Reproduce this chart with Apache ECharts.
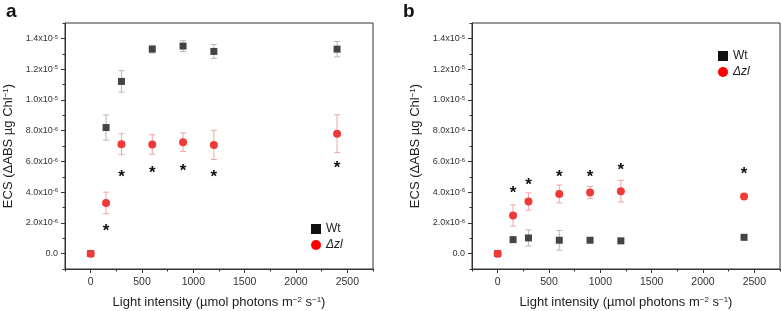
<!DOCTYPE html>
<html>
<head>
<meta charset="utf-8">
<script src="https://cdn.jsdelivr.net/npm/echarts@6/dist/echarts.min.js"></script>
<style>
  html, body { margin: 0; padding: 0; background: #fff; }
  #chart { width: 781px; height: 311px; }
</style>
</head>
<body>
<div id="chart"></div>
<script>
// 数据：光强和两组样品
var lightX = [0, 150, 300, 600, 900, 1200, 2400];

// a 图
var aWt = [0, 8.2e-6, 11.2e-6, 13.3e-6, 13.5e-6, 13.15e-6, 13.3e-6];
var aWtErr = [0, 0.82e-6, 0.7e-6, 0.25e-6, 0.35e-6, 0.45e-6, 0.5e-6];
var aZl = [0, 3.3e-6, 7.12e-6, 7.1e-6, 7.25e-6, 7.07e-6, 7.8e-6];
var aZlErr = [0, 0.7e-6, 0.68e-6, 0.63e-6, 0.6e-6, 0.95e-6, 1.23e-6];
var aStarX = [150, 300, 600, 900, 1200, 2400];
var aStarY = [1.7e-6, 5.25e-6, 5.5e-6, 5.6e-6, 5.23e-6, 5.8e-6];

// b 图
var bWt = [0, 0.91e-6, 1.02e-6, 0.87e-6, 0.87e-6, 0.83e-6, 1.06e-6];
var bWtErr = [0, 0.08e-6, 0.52e-6, 0.64e-6, 0.08e-6, 0.07e-6, 0.05e-6];
var bZl = [0, 2.48e-6, 3.39e-6, 3.88e-6, 3.97e-6, 4.06e-6, 3.72e-6];
var bZlErr = [0, 0.69e-6, 0.56e-6, 0.58e-6, 0.4e-6, 0.71e-6, 0.1e-6];
var bStarX = [150, 300, 600, 900, 1200, 2400];
var bStarY = [4.2e-6, 4.7e-6, 5.2e-6, 5.25e-6, 5.65e-6, 5.42e-6];

// 刻度
var xMajor = [0, 500, 1000, 1500, 2000, 2500];
var xMinor = [-250, 250, 750, 1250, 1750, 2250, 2750];
var yMajor = [0, 2e-6, 4e-6, 6e-6, 8e-6, 1e-5, 1.2e-5, 1.4e-5];
var yMinor = [-1e-6, 1e-6, 3e-6, 5e-6, 7e-6, 9e-6, 1.1e-5, 1.3e-5, 1.5e-5];

var FONT = "'Liberation Sans', Arial, sans-serif";
var AXIS_COLOR = '#333';
var WT_COLOR = '#444';
var WT_ERR = '#b8b8b8';
var ZL_COLOR = '#f03a3a';
var ZL_ERR = '#f4a3a3';

function yLabel(v) {
	if (Math.abs(v) < 1e-12) return '0.0';
	var e = Math.floor(Math.log10(v) + 1e-9);
	var m = v / Math.pow(10, e);
	return m.toFixed(1) + 'x10{s|' + e + '}';
}

function zip(xs, ys) {
	var out = [];
	for (var i = 0; i < xs.length; i++) out.push([xs[i], ys[i]]);
	return out;
}

function errData(ys, errs) {
	var out = [];
	for (var i = 0; i < lightX.length; i++) {
		if (errs[i] > 0) out.push([lightX[i], ys[i] - errs[i], ys[i] + errs[i]]);
	}
	return out;
}

function errorSeries(name, xi, data, color) {
	return {
		name: name,
		type: 'custom',
		xAxisIndex: xi,
		yAxisIndex: xi,
		silent: true,
		z: 2,
		data: data,
		renderItem: function(params, api) {
			var lo = api.coord([api.value(0), api.value(1)]);
			var hi = api.coord([api.value(0), api.value(2)]);
			var w = 3;
			var st = { stroke: color, lineWidth: 1 };
			return {
				type: 'group',
				children: [
					{ type: 'line', shape: { x1: lo[0], y1: lo[1], x2: hi[0], y2: hi[1] }, style: st },
					{ type: 'line', shape: { x1: lo[0] - w, y1: lo[1], x2: lo[0] + w, y2: lo[1] }, style: st },
					{ type: 'line', shape: { x1: hi[0] - w, y1: hi[1], x2: hi[0] + w, y2: hi[1] }, style: st }
				]
			};
		}
	};
}

function starSeries(xi, xs, ys) {
	return {
		type: 'custom',
		xAxisIndex: xi,
		yAxisIndex: xi,
		silent: true,
		z: 4,
		data: zip(xs, ys),
		renderItem: function(params, api) {
			var p = api.coord([api.value(0), api.value(1)]);
			return {
				type: 'text',
				x: p[0],
				y: p[1] + 4,
				style: {
					text: '*',
					fill: '#111',
					font: 'bold 17px ' + FONT,
					align: 'center',
					verticalAlign: 'middle'
				}
			};
		}
	};
}

var grids = [
	{ left: 65, right: 408, top: 23, bottom: 42 },
	{ left: 472, right: 1, top: 23, bottom: 42 }
];

var xAxes = [], yAxes = [];
for (var g = 0; g < 2; g++) {
	xAxes.push({
		type: 'value', gridIndex: g, position: 'bottom', min: -250, max: 2750,
		name: 'Light intensity (µmol photons m{s|−2} s{s|−1})',
		nameLocation: 'middle', nameGap: 27,
		nameTextStyle: {
			color: '#222', fontSize: 13, fontFamily: FONT,
			rich: { s: { fontSize: 8, verticalAlign: 'top', lineHeight: 10, fontFamily: FONT, color: '#222' } }
		},
		axisLine: { show: true, onZero: false, lineStyle: { color: AXIS_COLOR, width: 1 } },
		axisTick: { show: true, length: 4, customValues: xMajor, lineStyle: { color: AXIS_COLOR } },
		axisLabel: {
			customValues: xMajor, margin: 8, fontSize: 10.5, color: '#333', fontFamily: FONT,
			formatter: function(v) { return String(v); }
		},
		splitLine: { show: false }
	});
	// 次刻度
	xAxes.push({
		type: 'value', gridIndex: g, position: 'bottom', offset: 0, min: -250, max: 2750,
		axisLine: { show: false, onZero: false },
		axisTick: { show: true, length: 2.5, customValues: xMinor, lineStyle: { color: AXIS_COLOR } },
		axisLabel: { show: false },
		splitLine: { show: false }
	});
	yAxes.push({
		type: 'value', gridIndex: g, position: 'left', min: -1e-6, max: 1.5e-5,
		name: 'ECS (ΔABS µg Chl{s|−1})',
		nameLocation: 'middle', nameGap: 50,
		nameTextStyle: {
			color: '#222', fontSize: 13, fontFamily: FONT,
			rich: { s: { fontSize: 8, verticalAlign: 'top', lineHeight: 10, fontFamily: FONT, color: '#222' } }
		},
		axisLine: { show: true, onZero: false, lineStyle: { color: AXIS_COLOR, width: 1 } },
		axisTick: { show: true, length: 4, customValues: yMajor, lineStyle: { color: AXIS_COLOR } },
		axisLabel: {
			customValues: yMajor, margin: 7, fontSize: 9, color: '#333', fontFamily: FONT,
			formatter: yLabel,
			rich: { s: { fontSize: 6, verticalAlign: 'top', lineHeight: 8, fontFamily: FONT, color: '#333' } }
		},
		splitLine: { show: false }
	});
	yAxes.push({
		type: 'value', gridIndex: g, position: 'left', offset: 0, min: -1e-6, max: 1.5e-5,
		axisLine: { show: false, onZero: false },
		axisTick: { show: true, length: 2.5, customValues: yMinor, lineStyle: { color: AXIS_COLOR } },
		axisLabel: { show: false },
		splitLine: { show: false }
	});
}

// 每个 grid 的主轴索引分别为 0 和 2
function pointSeries(name, xi, ys, symbol, size, color) {
	return {
		name: name,
		type: 'scatter',
		xAxisIndex: xi,
		yAxisIndex: xi,
		symbol: symbol,
		symbolSize: size,
		itemStyle: { color: color, opacity: 1 },
		z: 3,
		data: zip(lightX, ys)
	};
}

function legendFor(left, top) {
	return {
		orient: 'vertical',
		left: left,
		top: top,
		padding: 0,
		itemWidth: 10,
		itemHeight: 10,
		itemGap: 4,
		selectedMode: false,
		textStyle: { fontSize: 12, color: '#222', fontFamily: FONT },
		data: [
			{ name: 'Wt', icon: 'rect', itemStyle: { color: '#111' } },
			{ name: 'Δzl', icon: 'circle', itemStyle: { color: '#f00' }, textStyle: { fontStyle: 'italic' } }
		]
	};
}

var option = {
	animation: false,
	backgroundColor: '#fff',
	title: [
		{ text: 'a', left: 1, top: -3, textStyle: { fontSize: 19, fontWeight: 'bold', color: '#111', fontFamily: FONT } },
		{ text: 'b', left: 398, top: -3, textStyle: { fontSize: 19, fontWeight: 'bold', color: '#111', fontFamily: FONT } }
	],
	grid: grids.map(function(gr) {
		return Object.assign({
			show: true, borderColor: AXIS_COLOR, borderWidth: 1, backgroundColor: 'transparent',
			containLabel: false, outerBoundsMode: 'none'
		}, gr);
	}),
	legend: [legendFor(311, 223), legendFor(718, 50)],
	xAxis: xAxes,
	yAxis: yAxes,
	series: [
		errorSeries('Wt', 0, errData(aWt, aWtErr), WT_ERR),
		errorSeries('Δzl', 0, errData(aZl, aZlErr), ZL_ERR),
		pointSeries('Wt', 0, aWt, 'rect', 7, WT_COLOR),
		pointSeries('Δzl', 0, aZl, 'circle', 8, ZL_COLOR),
		starSeries(0, aStarX, aStarY),
		errorSeries('Wt', 2, errData(bWt, bWtErr), WT_ERR),
		errorSeries('Δzl', 2, errData(bZl, bZlErr), ZL_ERR),
		pointSeries('Wt', 2, bWt, 'rect', 7, WT_COLOR),
		pointSeries('Δzl', 2, bZl, 'circle', 8, ZL_COLOR),
		starSeries(2, bStarX, bStarY)
	]
};

var myChart = echarts.init(document.getElementById('chart'));
myChart.setOption(option);
</script>
</body>
</html>
